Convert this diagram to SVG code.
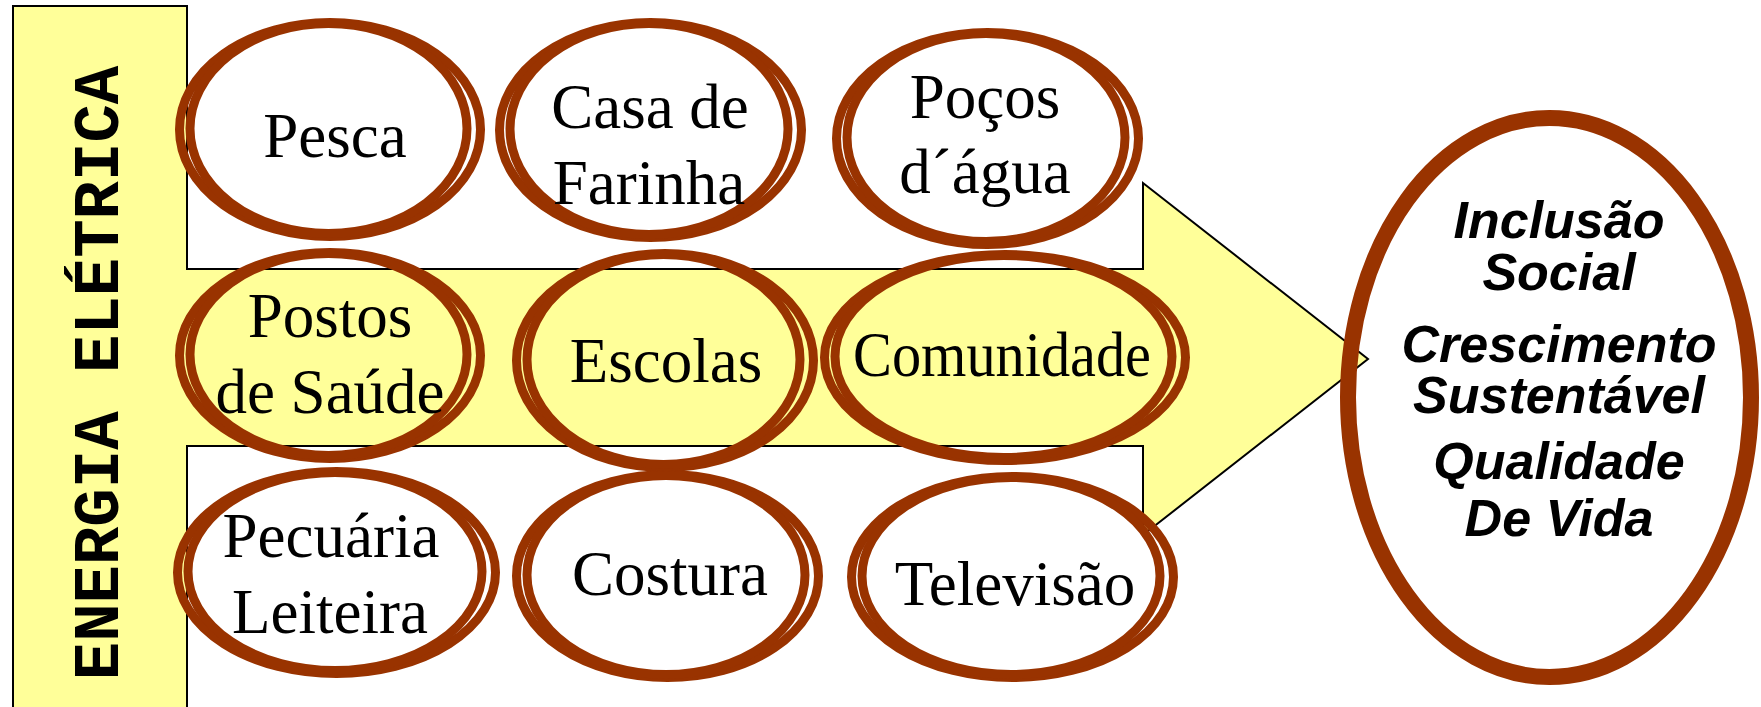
<svg xmlns="http://www.w3.org/2000/svg" width="1761" height="707" viewBox="0 0 1761 707">
<style>
.ring{fill:none;stroke:#993300;stroke-width:9}
.lbl{font-family:"Liberation Serif","Times New Roman",serif;font-size:63px;fill:#000;text-anchor:middle}
.res{font-family:"Liberation Sans",Arial,sans-serif;font-size:52px;font-weight:bold;font-style:italic;fill:#000;text-anchor:middle}
.bar{font-family:"Liberation Mono","Courier New",monospace;font-size:64px;font-weight:bold;fill:#000;text-anchor:middle}
</style>
<rect width="1761" height="707" fill="#fff"/>
<g id="connectors">
<polygon points="13,6 187,6 187,269 1143,269 1143,183 1368,359 1143,535 1143,446 187,446 187,712 13,712" fill="#FFFF99" stroke="#000" stroke-width="2"/>
<text class="bar" transform="translate(118,373) rotate(-90)">ENERGIA ELÉTRICA</text>
</g>
<g id="pesca">
<ellipse class="ring" cx="330" cy="129.5" rx="150.5" ry="107"/>
<ellipse class="ring" cx="328.5" cy="128.5" rx="138.5" ry="105"/>
<text class="lbl" x="335" y="157">Pesca</text>
</g>
<g id="casa">
<ellipse class="ring" cx="650.5" cy="130" rx="151" ry="107.5"/>
<ellipse class="ring" cx="649" cy="129" rx="139" ry="105.5"/>
<text class="lbl" x="650" y="128">Casa de</text>
<text class="lbl" x="649" y="204">Farinha</text>
</g>
<g id="pocos">
<ellipse class="ring" cx="987.5" cy="138.5" rx="151" ry="106"/>
<ellipse class="ring" cx="986" cy="137.5" rx="139" ry="104"/>
<text class="lbl" x="985" y="118">Poços</text>
<text class="lbl" x="985" y="193">d´água</text>
</g>
<g id="postos">
<ellipse class="ring" cx="330" cy="355.5" rx="150.5" ry="103"/>
<ellipse class="ring" cx="328.5" cy="354.5" rx="138.5" ry="101"/>
<text class="lbl" x="330" y="337">Postos</text>
<text class="lbl" x="330" y="413">de Saúde</text>
</g>
<g id="escolas">
<ellipse class="ring" cx="665" cy="360.5" rx="148.5" ry="107"/>
<ellipse class="ring" cx="663.5" cy="359.5" rx="136.5" ry="105"/>
<text class="lbl" x="666" y="382">Escolas</text>
</g>
<g id="comunidade">
<ellipse class="ring" cx="1005" cy="357.5" rx="180.5" ry="103"/>
<ellipse class="ring" cx="1003.5" cy="356.5" rx="168.5" ry="101"/>
<text class="lbl" x="1002" y="376" textLength="298" lengthAdjust="spacingAndGlyphs">Comunidade</text>
</g>
<g id="pecuaria">
<ellipse class="ring" cx="336.5" cy="572.5" rx="159" ry="101"/>
<ellipse class="ring" cx="335" cy="571.5" rx="147" ry="99"/>
<text class="lbl" x="331" y="557">Pecuária</text>
<text class="lbl" x="330" y="633">Leiteira</text>
</g>
<g id="costura">
<ellipse class="ring" cx="667.5" cy="576" rx="151" ry="101.5"/>
<ellipse class="ring" cx="666" cy="575" rx="139" ry="99.5"/>
<text class="lbl" x="670" y="595">Costura</text>
</g>
<g id="televisao">
<ellipse class="ring" cx="1012.5" cy="577" rx="161" ry="100.5"/>
<ellipse class="ring" cx="1011" cy="576" rx="149" ry="98.5"/>
<text class="lbl" x="1015" y="605">Televisão</text>
</g>
<g id="resultado">
<ellipse cx="1549.5" cy="397.5" rx="201.5" ry="279.5" fill="none" stroke="#993300" stroke-width="16"/>
<text class="res" x="1559" y="238">Inclusão</text>
<text class="res" x="1559" y="290">Social</text>
<text class="res" x="1559" y="362">Crescimento</text>
<text class="res" x="1559" y="413">Sustentável</text>
<text class="res" x="1559" y="479">Qualidade</text>
<text class="res" x="1559" y="536">De Vida</text>
</g>
</svg>
